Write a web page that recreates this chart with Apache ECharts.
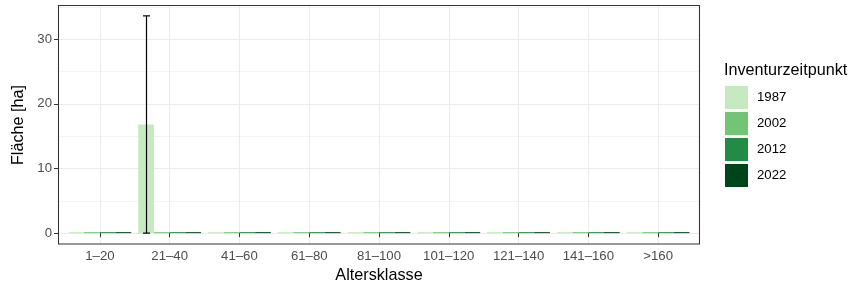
<!DOCTYPE html>
<html>
<head>
<meta charset="utf-8">
<script src="https://cdn.jsdelivr.net/npm/echarts@6/dist/echarts.min.js"></script>
<style>html,body{margin:0;padding:0;background:#fff}#c{width:851px;height:285px}</style>
</head>
<body>
<div id="c"></div>
<script>
const categories = ['1–20','21–40','41–60','61–80','81–100','101–120','121–140','141–160','>160'];
const seriesNames = ['1987','2002','2012','2022'];
const v1987 = [0, 16.8, 0, 0, 0, 0, 0, 0, 0];
const v2002 = [0, 0, 0, 0, 0, 0, 0, 0, 0];
const v2012 = [0, 0, 0, 0, 0, 0, 0, 0, 0];
const v2022 = [0, 0, 0, 0, 0, 0, 0, 0, 0];
// error bar for 1987 series: [categoryIndex, lower, upper]
const err1987 = [[1, 0, 33.6]];
const yTicks = [0, 10, 20, 30];
const yMinor = [5, 15, 25, 35];
const yMin = -1.68, yMax = 35.28;

const colors = ['#C7E9C0', '#74C476', '#238B45', '#00441B'];
const values = [v1987, v2002, v2012, v2022];
const FONT = "'Liberation Sans', Arial, Helvetica, sans-serif";
const TITLE_FONT = "16.2px 'Liberation Sans', Arial, sans-serif";
const TXT = 13.2;

const chart = echarts.init(document.getElementById('c'), null, {renderer: 'canvas'});

const barSeries = seriesNames.map((n, i) => ({
  name: n, type: 'bar', xAxisIndex: 0, yAxisIndex: 0,
  data: values[i], barGap: '0%', barCategoryGap: '10%', barMinHeight: 1,
  itemStyle: {color: colors[i]}, z: 3, silent: true
}));

const option = {
  animation: false,
  textStyle: {fontFamily: FONT},
  grid: [
    {left: 65, right: 158, top: 5, bottom: 41, containLabel: false, outerBoundsMode: 'none'},
    {left: 58, right: 151, top: 5, bottom: 41, containLabel: false, outerBoundsMode: 'none'}
  ],
  xAxis: [
    {type: 'category', gridIndex: 0, data: categories,
     axisLine: {show: false},
     axisTick: {show: true, alignWithLabel: true, length: 4, lineStyle: {color: '#333333', width: 1}},
     axisLabel: {color: '#4D4D4D', fontSize: TXT, margin: 6, fontFamily: FONT},
     splitLine: {show: false}},
    {type: 'value', gridIndex: 1, min: 0, max: 1, show: false}
  ],
  yAxis: [
    {type: 'value', gridIndex: 0, min: yMin, max: yMax, show: false},
    {type: 'value', gridIndex: 1, min: yMin, max: yMax,
     axisLine: {show: false},
     axisTick: {show: true, length: 4, customValues: yTicks, lineStyle: {color: '#333333', width: 1}},
     axisLabel: {color: '#4D4D4D', fontSize: TXT, margin: 6, customValues: yTicks, fontFamily: FONT},
     splitLine: {show: false}}
  ],
  legend: {
    data: seriesNames, orient: 'vertical', left: 725, top: 86, padding: 0,
    itemWidth: 23, itemHeight: 23, itemGap: 3, icon: 'rect',
    textStyle: {color: '#000', fontSize: TXT, fontFamily: FONT, padding: [0, 0, 0, 4]},
    selectedMode: false
  },
  graphic: [
    {type: 'text', left: 724, top: 63, style: {text: 'Inventurzeitpunkt', fill: '#000', font: TITLE_FONT}},
    {type: 'text', x: 379, y: 276, style: {text: 'Altersklasse', fill: '#000', font: TITLE_FONT, align: 'center', verticalAlign: 'middle'}},
    {type: 'text', x: 19, y: 125, rotation: Math.PI / 2, style: {text: 'Fläche [ha]', fill: '#000', font: TITLE_FONT, align: 'center', verticalAlign: 'middle'}},
    {type: 'rect', shape: {x: 58.5, y: 5.5, width: 641, height: 238.5}, style: {stroke: '#333333', fill: null, lineWidth: 1.07}, z: 100, silent: true}
  ],
  series: [
    {type: 'line', xAxisIndex: 1, yAxisIndex: 1, data: [], silent: true, z: 0,
     markLine: {silent: true, symbol: 'none', z: 0, label: {show: false}, animation: false,
       data: yMinor.map(v => ({yAxis: v, lineStyle: {color: '#EBEBEB', width: 0.6, type: 'solid'}}))
         .concat(yTicks.map(v => ({yAxis: v, lineStyle: {color: '#EBEBEB', width: 1.07, type: 'solid'}})))}},
    {type: 'line', xAxisIndex: 0, yAxisIndex: 0, data: [], silent: true, z: 0,
     markLine: {silent: true, symbol: 'none', z: 0, label: {show: false}, animation: false,
       data: categories.map(c => ({xAxis: c, lineStyle: {color: '#EBEBEB', width: 1.07, type: 'solid'}}))}},
    ...barSeries,
    {type: 'custom', xAxisIndex: 0, yAxisIndex: 0, data: err1987, z: 5, silent: true,
     encode: {x: 0, y: [1, 2]},
     renderItem: function (params, api) {
       const idx = api.value(0);
       const lo = api.coord([idx, api.value(1)]);
       const hi = api.coord([idx, api.value(2)]);
       const band = api.size([1, 0])[0];
       const bw = band * 0.9 / 4;
       const x = Math.round(lo[0] - 1.5 * bw) + 0.5;
       const cap = band * 0.05;
       const st = {stroke: '#000', lineWidth: 1.2};
       return {type: 'group', children: [
         {type: 'line', shape: {x1: x, y1: lo[1], x2: x, y2: hi[1]}, style: st},
         {type: 'line', shape: {x1: x - cap, y1: hi[1], x2: x + cap, y2: hi[1]}, style: st},
         {type: 'line', shape: {x1: x - cap, y1: lo[1], x2: x + cap, y2: lo[1]}, style: st}
       ]};
     }}
  ]
};
chart.setOption(option);
</script>
</body>
</html>
